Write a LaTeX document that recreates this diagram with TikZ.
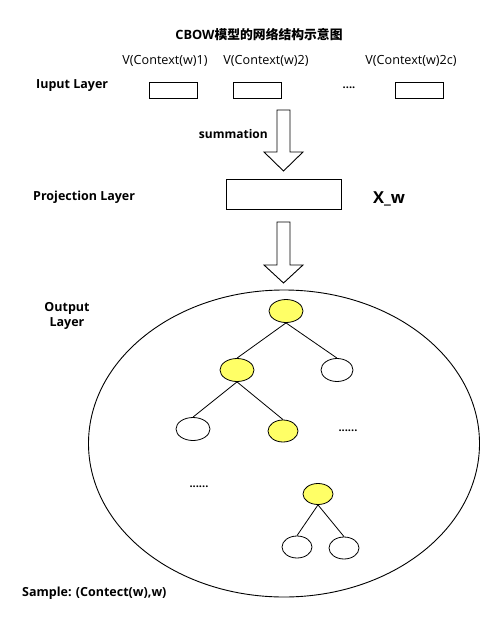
\documentclass[tikz,border=0pt]{standalone}
\usepackage{fontspec}
\usetikzlibrary{shapes.geometric}
\setmainfont{Open Sans}
\newfontfamily\cjk{Noto Sans CJK SC}
\definecolor{nodeyellow}{RGB}{255,255,102}
\begin{document}
\begin{tikzpicture}[x=1pt,y=-1pt,
  lbl/.style={font=\fontsize{12.5}{15}\selectfont\bfseries, inner sep=0},
  dots/.style={font=\fontsize{11}{13}\selectfont\bfseries, inner sep=0},
  ctx/.style={font=\fontsize{12.6}{14}\selectfont, inner sep=0},
  inbox/.style={draw, line width=0.9pt, minimum width=48pt, minimum height=16pt, inner sep=0},
  leaf/.style={draw, ellipse, line width=0.8pt, fill=white, inner sep=0},
  yel/.style={leaf, fill=nodeyellow},
  edge/.style={line width=0.8pt},
  hollow/.style={draw, line width=0.9pt, fill=white, line join=miter}]
\useasboundingbox (0,0) rectangle (499,626);
\fill[white] (0,0) rectangle (499,626);

% title
\node[font=\fontsize{12.8}{15}\selectfont\bfseries, inner sep=0] (title) at (259,35) {CBOW{\cjk\bfseries 模型的网络结构示意图}};

% context labels
\node[ctx] (c1) at (165,61) {V(Context(w)1)};
\node[ctx] (c2) at (266,61) {V(Context(w)2)};
\node[ctx] (c3) at (411,61) {V(Context(w)2c)};

% input layer
\node[lbl, anchor=west] (inlab) at (36,86) {Iuput Layer};
\node[inbox] (b1) at (173,90) {};
\node[inbox] (b2) at (257.5,90) {};
\node[inbox] (b3) at (419,90) {};
\node[dots] (idots) at (349,88) {....};

% arrow 1
\draw[hollow] (277,110) -- (290,110) -- (290,152) -- (303,152) -- (283.5,171) -- (264,152) -- (277,152) -- cycle;
\node[lbl, font=\fontsize{12}{14}\selectfont\bfseries, anchor=east] (sum) at (268,134) {summation};

% projection
\node[draw, line width=0.9pt, minimum width=115pt, minimum height=30pt, inner sep=0] (proj) at (283.5,194) {};
\node[lbl, anchor=west] (projlab) at (33,197) {Projection Layer};
\node[font=\fontsize{16.5}{18}\selectfont\bfseries, inner sep=0, anchor=west] (xw) at (373,199) {X\_w};

% arrow 2
\draw[hollow] (277,222) -- (290,222) -- (290,265) -- (303,265) -- (283.5,283) -- (264,265) -- (277,265) -- cycle;

% output layer
\node[draw, ellipse, line width=0.9pt, minimum width=391pt, minimum height=307pt, inner sep=0] (out) at (284,443.5) {};
\node[lbl, align=center] (outlab) at (67,316) {Output\\Layer};

% tree
\node[yel, minimum width=34pt, minimum height=23pt] (r) at (286,311) {};
\node[yel, minimum width=34pt, minimum height=23pt] (l1) at (237,370) {};
\node[leaf, minimum width=32pt, minimum height=23pt] (r1) at (337,370) {};
\node[leaf, minimum width=34pt, minimum height=23pt] (ll) at (193,429) {};
\node[yel, minimum width=30pt, minimum height=22pt] (lr) at (283,431) {};
\node[yel, minimum width=30pt, minimum height=21pt] (y3) at (318,494) {};
\node[leaf, minimum width=30pt, minimum height=22pt] (w1) at (297,547) {};
\node[leaf, minimum width=30pt, minimum height=22pt] (w2) at (344,548) {};
\node[dots] (d1) at (348,431) {......};
\node[dots] (d2) at (199,487) {......};

\draw[edge] (r.south) -- (l1.north);
\draw[edge] (r.south) -- (r1.north);
\draw[edge] (l1.south) -- (ll.north);
\draw[edge] (l1.south) -- (lr.north);
\draw[edge] (y3.south) -- (w1.north);
\draw[edge] (y3.south) -- (w2.north);

\node[lbl, anchor=west] (sample) at (22,593) {Sample: (Contect(w),w)};
\end{tikzpicture}
\end{document}
